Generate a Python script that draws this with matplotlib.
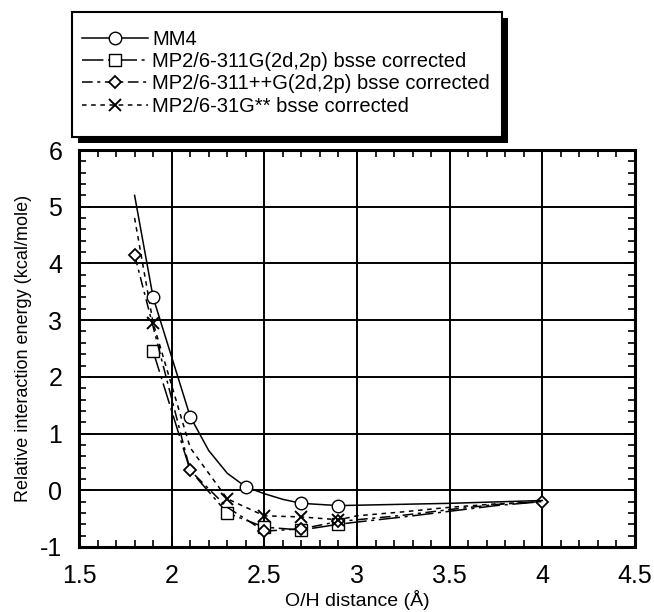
import matplotlib
matplotlib.use('Agg')
import matplotlib.pyplot as plt
from matplotlib.patches import Rectangle
from matplotlib.ticker import MultipleLocator, FuncFormatter

plt.rcParams['font.family'] = ['Liberation Sans', 'DejaVu Sans']

# MM4
x_mm4 = [1.8, 1.9, 2.0, 2.1, 2.2, 2.3, 2.4, 2.5, 2.6, 2.7, 2.9, 3.5, 4.0]
y_mm4 = [5.2, 3.4, 2.35, 1.3, 0.7, 0.3, 0.06, -0.06, -0.16, -0.23, -0.27, -0.23, -0.18]
mk_mm4 = [1, 3, 6, 9, 10]

# MP2/6-311G(2d,2p)
x_sq = [1.9, 2.1, 2.3, 2.5, 2.7, 2.9, 3.0, 3.25, 3.5, 3.75, 4.0]
y_sq = [2.45, 0.35, -0.4, -0.65, -0.7, -0.6, -0.56, -0.47, -0.37, -0.27, -0.2]
mk_sq = [0, 2, 3, 4, 5]

# MP2/6-311++G(2d,2p)
x_dia = [1.8, 2.1, 2.3, 2.5, 2.7, 2.9, 3.0, 3.25, 3.5, 3.75, 4.0]
y_dia = [4.15, 0.35, -0.3, -0.72, -0.68, -0.55, -0.52, -0.44, -0.34, -0.25, -0.2]
mk_dia = [0, 1, 3, 4, 5, 10]

# MP2/6-31G**
x_x = [1.8, 1.9, 2.1, 2.3, 2.5, 2.7, 2.9, 3.0, 3.25, 3.5, 3.75, 4.0]
y_x = [4.8, 2.95, 0.75, -0.15, -0.45, -0.47, -0.52, -0.45, -0.38, -0.3, -0.24, -0.2]
mk_x = [1, 3, 4, 5, 6]

labels = ['MM4',
          'MP2/6-311G(2d,2p) bsse corrected',
          'MP2/6-311++G(2d,2p) bsse corrected',
          'MP2/6-31G** bsse corrected']

fig = plt.figure(figsize=(6.54, 6.12), dpi=100)
ax = fig.add_axes([79 / 654, 1 - 547 / 612, 556 / 654, 397 / 612])

lw = 1.1
ax.plot(x_mm4, y_mm4, color='black', lw=lw, marker='o', ms=9, mfc='white', mec='black',
        markevery=mk_mm4, label=labels[0], zorder=5)
ax.plot(x_sq, y_sq, color='black', lw=lw, ls=(0, (14, 3, 2, 3)), marker='s', ms=9, mfc='white',
        mec='black', markevery=mk_sq, label=labels[1], zorder=4)
ax.plot(x_dia, y_dia, color='black', lw=lw, ls=(0, (7, 3, 2, 3)), marker='D', ms=6.5, mfc='white',
        mec='black', mew=1.3, markevery=mk_dia, label=labels[2], zorder=4)
ax.plot(x_x, y_x, color='black', lw=lw, ls=(0, (3, 3)), marker='x', ms=8, mew=1.4,
        markevery=mk_x, label=labels[3], zorder=4)

ax.set_xlim(1.5, 4.5)
ax.set_ylim(-1, 6)
ax.xaxis.set_major_locator(MultipleLocator(0.5))
ax.xaxis.set_minor_locator(MultipleLocator(0.1))
ax.yaxis.set_major_locator(MultipleLocator(1))
ax.yaxis.set_minor_locator(MultipleLocator(0.2))
ax.xaxis.set_major_formatter(FuncFormatter(lambda v, p: f'{v:g}'))
ax.yaxis.set_major_formatter(FuncFormatter(lambda v, p: f'{v:g}'))

ax.grid(True, which='major', color='black', lw=1.4)
ax.set_axisbelow(True)
for s in ax.spines.values():
    s.set_linewidth(2.2)
ax.tick_params(which='both', direction='in', top=True, right=True, colors='black')
ax.tick_params(which='major', length=8, width=1.4, labelsize=18, pad=12)
ax.tick_params(which='minor', length=5, width=1.2)

ax.set_xlabel('O/H distance (Å)', fontsize=14, labelpad=2)
ax.set_ylabel('Relative interaction energy (kcal/mole)', fontsize=13, labelpad=6)

# legend box with solid shadow
fig.patches.append(Rectangle((78 / 654, 1 - 143 / 612), 430 / 654, 125 / 612,
                             transform=fig.transFigure, facecolor='black', edgecolor='none'))
fig.patches.append(Rectangle((72 / 654, 1 - 137 / 612), 430 / 654, 125 / 612,
                             transform=fig.transFigure, facecolor='white', edgecolor='black', lw=1.5))
fig.legend(loc='upper left', bbox_to_anchor=(82 / 654, 1 - 30 / 612), frameon=False,
           fontsize=14.5, handlelength=3.3, handletextpad=0.2, labelspacing=0.16,
           borderpad=0, borderaxespad=0)

fig.savefig('out.png', dpi=100)
